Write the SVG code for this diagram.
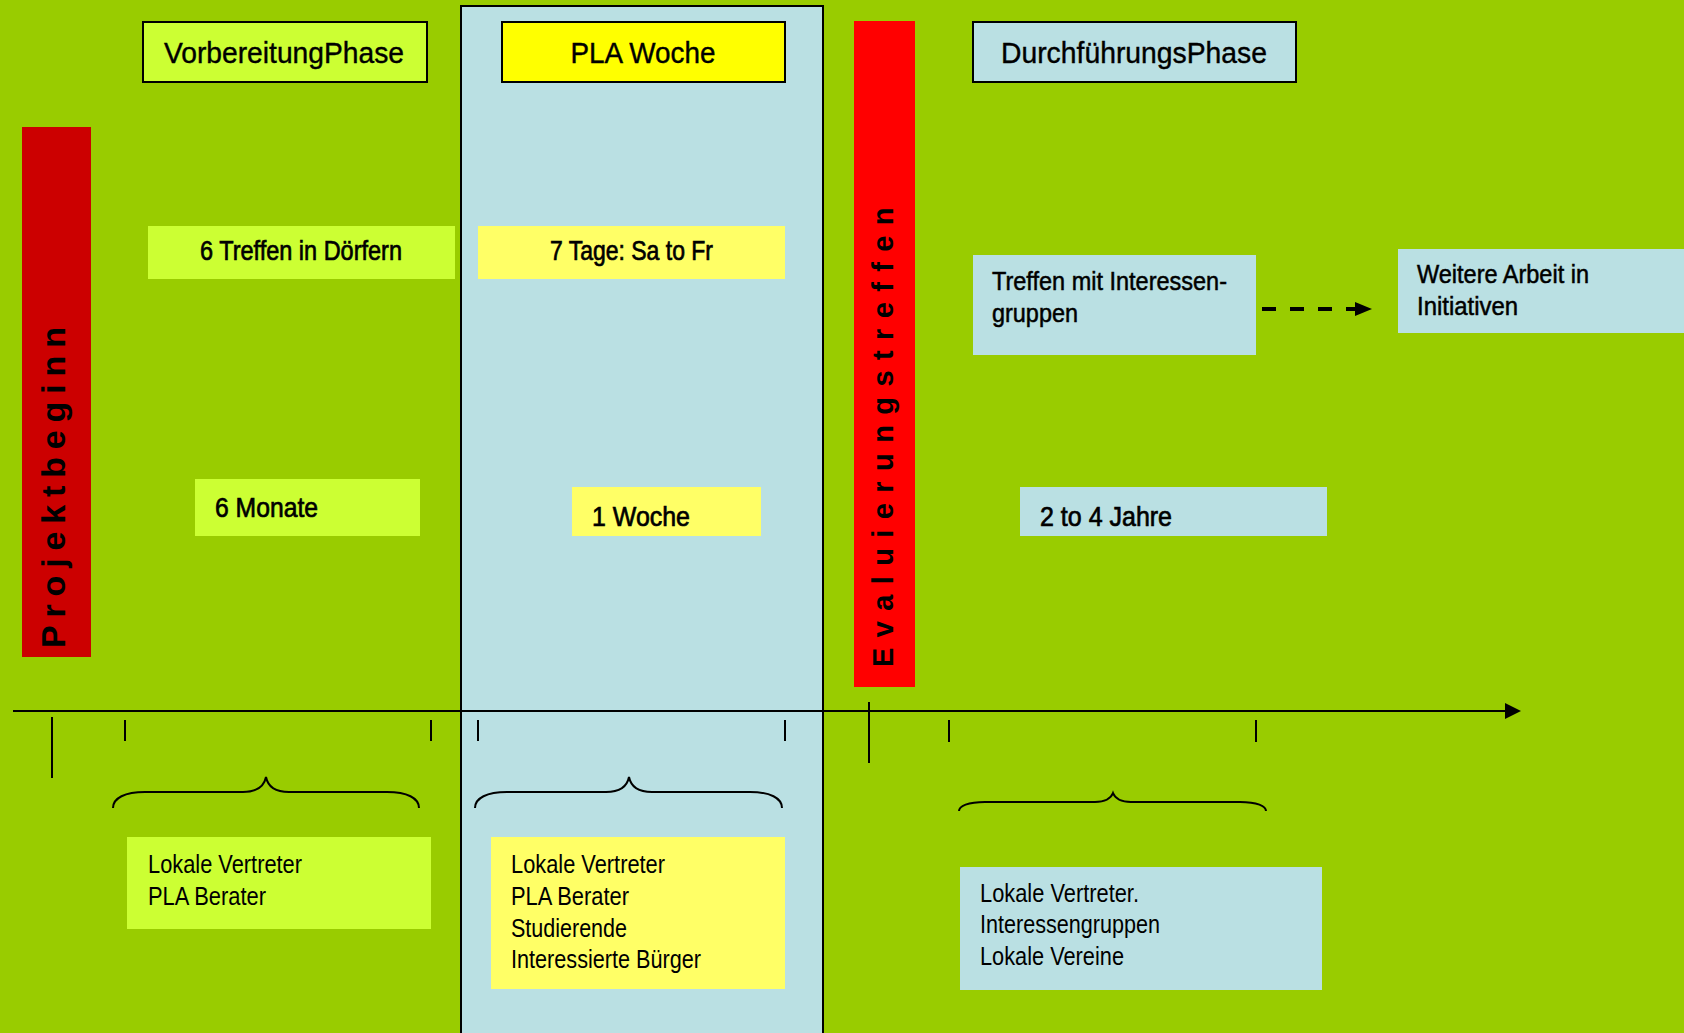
<svg xmlns="http://www.w3.org/2000/svg" width="1684" height="1033" viewBox="0 0 1684 1033">
<style>
  text { font-family: "Liberation Sans", Arial, sans-serif; fill: #000; }
  .hdr { font-size: 30px; text-anchor: middle; stroke: #000; stroke-width: 0.4; }
  .lbl { font-size: 28px; stroke: #000; stroke-width: 0.7; }
  .lst { font-size: 25px; }
  .semi { stroke: #000; stroke-width: 0.5; }
  .vert { font-size: 34px; font-weight: bold; }
  .bx { stroke: #000; stroke-width: 2; }
  .ln { stroke: #000; stroke-width: 2; fill: none; }
  .lime { fill: #CCFF33; }
  .ylw { fill: #FFFF66; }
  .blue { fill: #BAE0E3; }
</style>
<rect x="0" y="0" width="1684" height="1033" fill="#99CC00"/>

<g id="pla-column">
  <rect x="461" y="6" width="362" height="1040" fill="#BAE0E3" stroke="#000" stroke-width="2"/>
</g>

<g id="projektbeginn">
  <rect x="22" y="127" width="69" height="530" fill="#CC0000"/>
  <text class="vert" transform="translate(65,648) rotate(-90)" letter-spacing="7.85">Projektbeginn</text>
</g>

<g id="evaluierungstreffen">
  <rect x="854" y="21" width="61" height="666" fill="#FF0000"/>
  <text class="vert" style="font-size:29px" transform="translate(893,667) rotate(-90)" letter-spacing="10.4">Evaluierungstreffen</text>
</g>

<g id="vorbereitung-header">
  <rect class="bx lime" x="143" y="22" width="284" height="60"/>
  <text class="hdr" x="284" y="63" textLength="240" lengthAdjust="spacingAndGlyphs">VorbereitungPhase</text>
</g>
<g id="pla-header">
  <rect class="bx" fill="#FFFF00" x="502" y="22" width="283" height="60"/>
  <text class="hdr" x="643" y="63" textLength="145" lengthAdjust="spacingAndGlyphs">PLA Woche</text>
</g>
<g id="durchfuehrung-header">
  <rect class="bx blue" x="973" y="22" width="323" height="60"/>
  <text class="hdr" x="1134" y="63" textLength="266" lengthAdjust="spacingAndGlyphs">DurchführungsPhase</text>
</g>

<g id="treffen-doerfer">
  <rect class="lime" x="148" y="226" width="307" height="53"/>
  <text class="lbl" x="200" y="260" textLength="202" lengthAdjust="spacingAndGlyphs">6 Treffen in Dörfern</text>
</g>
<g id="sieben-tage">
  <rect class="ylw" x="478" y="226" width="307" height="53"/>
  <text class="lbl" x="550" y="260" textLength="163" lengthAdjust="spacingAndGlyphs">7 Tage: Sa to Fr</text>
</g>
<g id="treffen-interessengruppen">
  <rect class="blue" x="973" y="255" width="283" height="100"/>
  <text class="lst semi" x="992" y="290" textLength="235" lengthAdjust="spacingAndGlyphs">Treffen mit Interessen-</text>
  <text class="lst semi" x="992" y="322" textLength="86" lengthAdjust="spacingAndGlyphs">gruppen</text>
</g>
<g id="weitere-arbeit">
  <rect class="blue" x="1398" y="249" width="290" height="84"/>
  <text class="lst semi" x="1417" y="283" textLength="172" lengthAdjust="spacingAndGlyphs">Weitere Arbeit in</text>
  <text class="lst semi" x="1417" y="315" textLength="101" lengthAdjust="spacingAndGlyphs">Initiativen</text>
</g>

<g id="sechs-monate">
  <rect class="lime" x="195" y="479" width="225" height="57"/>
  <text class="lbl" x="215" y="517" textLength="103" lengthAdjust="spacingAndGlyphs">6 Monate</text>
</g>
<g id="eine-woche">
  <rect class="ylw" x="572" y="487" width="189" height="49"/>
  <text class="lbl" x="592" y="526" textLength="98" lengthAdjust="spacingAndGlyphs">1 Woche</text>
</g>
<g id="zwei-bis-vier-jahre">
  <rect class="blue" x="1020" y="487" width="307" height="49"/>
  <text class="lbl" x="1040" y="526" textLength="132" lengthAdjust="spacingAndGlyphs">2 to 4 Jahre</text>
</g>

<g id="akteure-vorbereitung">
  <rect class="lime" x="127" y="837" width="304" height="92"/>
  <text class="lst" x="148" y="873" textLength="154" lengthAdjust="spacingAndGlyphs">Lokale Vertreter</text>
  <text class="lst" x="148" y="905" textLength="118" lengthAdjust="spacingAndGlyphs">PLA Berater</text>
</g>
<g id="akteure-pla">
  <rect class="ylw" x="491" y="837" width="294" height="152"/>
  <text class="lst" x="511" y="873" textLength="154" lengthAdjust="spacingAndGlyphs">Lokale Vertreter</text>
  <text class="lst" x="511" y="905" textLength="118" lengthAdjust="spacingAndGlyphs">PLA Berater</text>
  <text class="lst" x="511" y="937" textLength="116" lengthAdjust="spacingAndGlyphs">Studierende</text>
  <text class="lst" x="511" y="968" textLength="190" lengthAdjust="spacingAndGlyphs">Interessierte Bürger</text>
</g>
<g id="akteure-durchfuehrung">
  <rect class="blue" x="960" y="867" width="362" height="123"/>
  <text class="lst" x="980" y="902" textLength="159" lengthAdjust="spacingAndGlyphs">Lokale Vertreter.</text>
  <text class="lst" x="980" y="933" textLength="180" lengthAdjust="spacingAndGlyphs">Interessengruppen</text>
  <text class="lst" x="980" y="965" textLength="144" lengthAdjust="spacingAndGlyphs">Lokale Vereine</text>
</g>

<g id="connectors">
  <line class="ln" x1="13" y1="711" x2="1507" y2="711" stroke-width="2.5"/>
  <polygon points="1505,703 1521,711 1505,719" fill="#000"/>
  <line class="ln" x1="52" y1="717" x2="52" y2="778"/>
  <line class="ln" x1="869" y1="702" x2="869" y2="763"/>
  <line class="ln" x1="125" y1="720" x2="125" y2="741"/>
  <line class="ln" x1="431" y1="720" x2="431" y2="741"/>
  <line class="ln" x1="478" y1="720" x2="478" y2="741"/>
  <line class="ln" x1="785" y1="720" x2="785" y2="741"/>
  <line class="ln" x1="949" y1="720" x2="949" y2="742"/>
  <line class="ln" x1="1256" y1="720" x2="1256" y2="742"/>
  <path class="ln" d="M113,808 C113,798 125,792 145,792 L243,792 C256,792 264,787 266,777 C268,787 276,792 289,792 L387,792 C407,792 419,798 419,808"/>
  <path class="ln" d="M475,808 C475,798 487,792 507,792 L606,792 C619,792 627,787 629,777 C631,787 639,792 652,792 L750,792 C770,792 782,798 782,808"/>
  <path class="ln" d="M959,811 C959,806 968,802 985,802 L1095,802 C1106,802 1111,798 1113,793 C1115,798 1120,802 1131,802 L1240,802 C1257,802 1266,806 1266,811"/>
  <line x1="1262" y1="309" x2="1358" y2="309" stroke="#000" stroke-width="4" stroke-dasharray="14 14"/>
  <polygon points="1355,302 1372,309 1355,316" fill="#000"/>
</g>
</svg>
